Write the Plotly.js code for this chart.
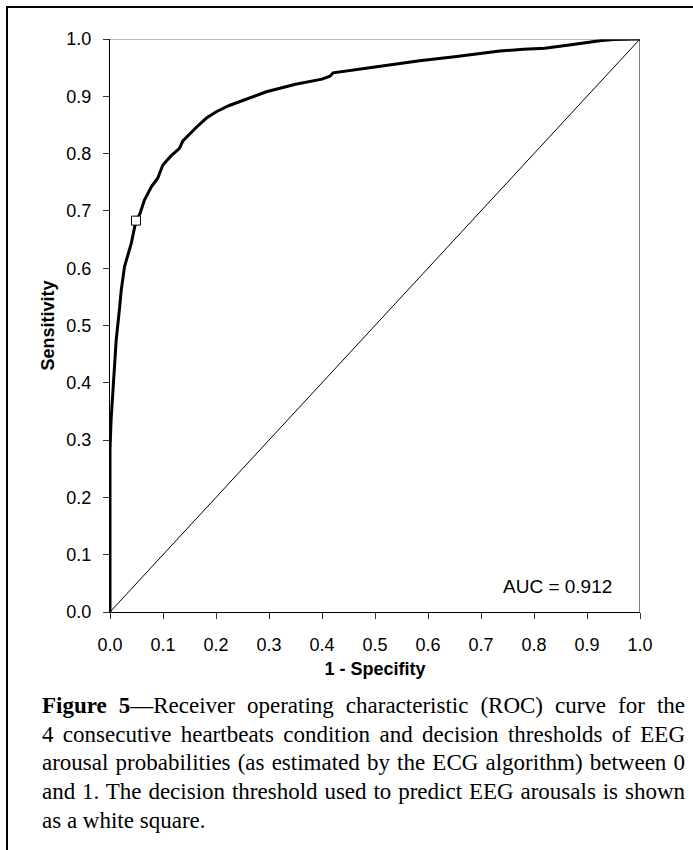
<!DOCTYPE html>
<html>
<head>
<meta charset="utf-8">
<script src="https://cdn.plot.ly/plotly-3.0.1.min.js"></script>
<style>
  html, body { margin: 0; padding: 0; background: #fff; }
  #wrap { position: relative; width: 693px; height: 850px; overflow: hidden; }
  #chart { position: absolute; left: 0; top: 0; width: 693px; height: 850px; }
  #frame { position: absolute; left: 6px; top: 6px; width: 700px; height: 900px;
           border-left: 2px solid #000; border-top: 2px solid #000; pointer-events: none; }
  #caption { position: absolute; left: 42px; top: 692px; width: 643px;
             font-family: "Liberation Serif", "Times New Roman", serif; font-size: 23px;
             line-height: 28.7px; color: #000; }
  #caption .l { text-align: justify; text-align-last: justify; }
  #caption .last { text-align: left; }
</style>
</head>
<body>
<div id="wrap">
  <div id="chart"></div>
  <div id="frame"></div>
  <div id="caption">
    <div class="l"><b>Figure 5</b>—Receiver operating characteristic (ROC) curve for the</div>
    <div class="l">4 consecutive heartbeats condition and decision thresholds of EEG</div>
    <div class="l">arousal probabilities (as estimated by the ECG algorithm) between 0</div>
    <div class="l">and 1. The decision threshold used to predict EEG arousals is shown</div>
    <div class="last">as a white square.</div>
  </div>
</div>
<script>
// ROC curve values
const fpr = [0, 0, 0, 0.002, 0.0066, 0.0117, 0.018, 0.021, 0.0274, 0.040, 0.049, 0.0557, 0.065, 0.078, 0.090, 0.0997, 0.115, 0.131, 0.1375, 0.150, 0.163, 0.182, 0.2006, 0.225, 0.251, 0.295, 0.35, 0.40, 0.415, 0.421, 0.5, 0.584, 0.65, 0.7355, 0.78, 0.82, 0.87, 0.924, 0.95, 1.0];
const tpr = [0, 0.15, 0.283, 0.335, 0.405, 0.475, 0.53, 0.56, 0.603, 0.643, 0.683, 0.693, 0.719, 0.742, 0.757, 0.780, 0.796, 0.809, 0.822, 0.834, 0.846, 0.862, 0.873, 0.884, 0.893, 0.908, 0.921, 0.930, 0.935, 0.941, 0.951, 0.962, 0.969, 0.979, 0.982, 0.984, 0.990, 0.997, 0.999, 1.0];
// chance diagonal
const diagX = [0, 1];
const diagY = [0, 1];
// decision threshold point
const threshX = [0.049];
const threshY = [0.683];
const aucText = "AUC = 0.912";
const tickVals = [0, 0.1, 0.2, 0.3, 0.4, 0.5, 0.6, 0.7, 0.8, 0.9, 1.0];
const tickText = ["0.0", "0.1", "0.2", "0.3", "0.4", "0.5", "0.6", "0.7", "0.8", "0.9", "1.0"];

const traces = [
  { x: diagX, y: diagY, mode: "lines", line: { color: "#000", width: 1 }, hoverinfo: "skip" },
  { x: fpr, y: tpr, mode: "lines", line: { color: "#000", width: 3 } },
  { x: threshX, y: threshY, mode: "markers",
    marker: { symbol: "square", size: 9, color: "#fff", line: { color: "#000", width: 1 } } }
];

const axisFont = { family: "Liberation Sans, Arial, sans-serif", size: 18, color: "#000" };

const layout = {
  width: 693, height: 850,
  margin: { l: 110, r: 53, t: 39, b: 238 },
  paper_bgcolor: "#fff", plot_bgcolor: "#fff",
  showlegend: false,
  font: axisFont,
  xaxis: {
    range: [0, 1], tickvals: tickVals, ticktext: tickText,
    showgrid: false, zeroline: false,
    showline: true, linecolor: "#000", linewidth: 1, mirror: false,
    ticks: "outside", ticklen: 6, tickcolor: "#333", tickwidth: 1,
    tickfont: axisFont, ticklabelstandoff: 10,
    title: { text: "<b>1 - Specifity</b>", font: axisFont, standoff: 8 }
  },
  yaxis: {
    range: [0, 1], tickvals: tickVals, ticktext: tickText,
    showgrid: false, zeroline: false,
    showline: true, linecolor: "#000", linewidth: 1, mirror: false,
    ticks: "outside", ticklen: 6, tickcolor: "#333", tickwidth: 1,
    tickfont: axisFont, ticklabelstandoff: 8,
    title: { text: "<b>Sensitivity</b>", font: axisFont, standoff: 7 }
  },
  shapes: [
    { type: "line", xref: "x", yref: "y", x0: 0, x1: 1, y0: 1, y1: 1, line: { color: "#777", width: 1 } },
    { type: "line", xref: "x", yref: "y", x0: 1, x1: 1, y0: 0, y1: 1, line: { color: "#000", width: 1 } }
  ],
  annotations: [
    { x: 0.95, y: 0.045, xref: "x", yref: "y", text: aucText, showarrow: false,
      xanchor: "right", yanchor: "middle", font: { family: "Liberation Sans, Arial, sans-serif", size: 19, color: "#000" } }
  ]
};

Plotly.newPlot("chart", traces, layout, { staticPlot: true, displayModeBar: false });
</script>
</body>
</html>
